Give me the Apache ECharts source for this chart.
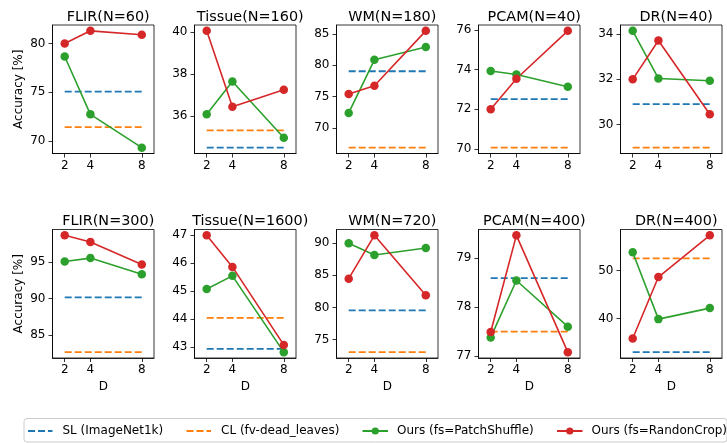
<!DOCTYPE html>
<html>
<head>
<meta charset="utf-8">
<script src="https://cdn.jsdelivr.net/npm/echarts@6/dist/echarts.min.js"></script>
<style>
  html, body { margin: 0; padding: 0; background: #fff; }
  #main { width: 727px; height: 443px; }
</style>
</head>
<body>
<div id="main"></div>
<script>
// panel titles and the x values (D)
var titles = ['FLIR(N=60)', 'Tissue(N=160)', 'WM(N=180)', 'PCAM(N=40)', 'DR(N=40)',
              'FLIR(N=300)', 'Tissue(N=1600)', 'WM(N=720)', 'PCAM(N=400)', 'DR(N=400)'];
var dVals = [2, 4, 8];

// baselines (flat dashed lines)
var slVals = [75.05, 34.51, 79.03, 72.51, 30.9, 90.18, 42.94, 79.53, 78.59, 32.94];
var clVals = [71.41, 35.33, 66.83, 70.07, 28.97, 82.66, 44.05, 73.01, 77.5, 52.59];

// ours, one row per panel, values at D = 2, 4, 8
var patchShuffle = [
  [78.66, 72.72, 69.3],
  [36.1, 37.65, 34.98],
  [72.37, 80.86, 82.9],
  [73.93, 73.75, 73.14],
  [34.15, 32.04, 31.94],
  [95.09, 95.55, 93.35],
  [45.08, 45.55, 42.82],
  [90.0, 88.17, 89.27],
  [77.38, 78.54, 77.6],
  [53.85, 39.86, 42.17]
];
var randonCrop = [
  [80.0, 81.3, 80.9],
  [40.06, 36.45, 37.26],
  [75.38, 76.72, 85.48],
  [72.0, 73.54, 75.95],
  [32.0, 33.72, 30.45],
  [98.67, 97.75, 94.68],
  [47.0, 45.87, 43.08],
  [84.48, 91.25, 81.88],
  [77.49, 79.46, 77.08],
  [35.8, 48.67, 57.41]
];

// y tick labels per panel
var yTicks = [
  [70, 75, 80], [36, 38, 40], [70, 75, 80, 85], [70, 72, 74, 76], [30, 32, 34],
  [85, 90, 95], [43, 44, 45, 46, 47], [75, 80, 85, 90], [77, 78, 79], [40, 50]
];

var names = ['SL (ImageNet1k)', 'CL (fv-dead_leaves)', 'Ours (fs=PatchShuffle)', 'Ours (fs=RandonCrop)'];
var colors = ['#1f77b4', '#ff7f0e', '#2ca02c', '#d62728'];
var font = 'DejaVu Sans';

var chart = echarts.init(document.getElementById('main'), null, { renderer: 'canvas' });

var lefts = [52.5, 194.5, 336.5, 478.5, 620.5];
var tops = [25, 229.5];
var pw = 101.5, ph = 128.5;

var grid = [], xAxis = [], yAxis = [], series = [], title = [];

for (var i = 0; i < 10; i++) {
  var row = Math.floor(i / 5), col = i % 5;
  grid.push({
    left: lefts[col], top: tops[row], width: pw, height: ph,
    show: true, borderColor: '#000', borderWidth: 0.8, backgroundColor: 'transparent'
  });
  title.push({
    text: titles[i],
    left: lefts[col] + pw / 2, top: tops[row] - 20,
    textAlign: 'center',
    textStyle: { fontFamily: font, fontSize: 14.4, fontWeight: 'normal', color: '#000' }
  });

  // matplotlib style limits: 5% margin round all plotted values
  var all = [slVals[i], clVals[i]].concat(patchShuffle[i], randonCrop[i]);
  var lo = Math.min.apply(null, all), hi = Math.max.apply(null, all);
  var pad = (hi - lo) * 0.05;

  xAxis.push({
    type: 'value', gridIndex: i, min: 1.05, max: 8.95,
    name: row === 1 ? 'D' : '', nameLocation: 'middle', nameGap: 23,
    nameTextStyle: { fontFamily: font, fontSize: 12, color: '#000' },
    axisLine: { show: true, lineStyle: { color: '#000', width: 0.8 } },
    axisTick: { show: true, length: 4, customValues: dVals, lineStyle: { color: '#000', width: 0.8 } },
    axisLabel: { customValues: dVals, margin: 6, fontFamily: font, fontSize: 12, color: '#000' },
    splitLine: { show: false }
  });
  yAxis.push({
    type: 'value', gridIndex: i, min: lo - pad, max: hi + pad,
    name: col === 0 ? 'Accuracy [%]' : '', nameLocation: 'middle', nameGap: 28,
    nameTextStyle: { fontFamily: font, fontSize: 12, color: '#000' },
    axisLine: { show: true, lineStyle: { color: '#000', width: 0.8 } },
    axisTick: { show: true, length: 4, customValues: yTicks[i], lineStyle: { color: '#000', width: 0.8 } },
    axisLabel: { customValues: yTicks[i], margin: 7, fontFamily: font, fontSize: 12, color: '#000' },
    splitLine: { show: false }
  });

  series.push({
    name: names[0], type: 'line', xAxisIndex: i, yAxisIndex: i, symbol: 'none', silent: true,
    lineStyle: { color: colors[0], width: 1.8, type: [7, 3] }, itemStyle: { color: colors[0] },
    data: [[dVals[0], slVals[i]], [dVals[2], slVals[i]]]
  });
  series.push({
    name: names[1], type: 'line', xAxisIndex: i, yAxisIndex: i, symbol: 'none', silent: true,
    lineStyle: { color: colors[1], width: 1.8, type: [7, 3] }, itemStyle: { color: colors[1] },
    data: [[dVals[0], clVals[i]], [dVals[2], clVals[i]]]
  });
  series.push({
    name: names[2], type: 'line', xAxisIndex: i, yAxisIndex: i, symbol: 'circle', symbolSize: 8.5,
    lineStyle: { color: colors[2], width: 1.6 }, itemStyle: { color: colors[2] },
    data: dVals.map(function (d, k) { return [d, patchShuffle[i][k]]; })
  });
  series.push({
    name: names[3], type: 'line', xAxisIndex: i, yAxisIndex: i, symbol: 'circle', symbolSize: 8.5,
    lineStyle: { color: colors[3], width: 1.6 }, itemStyle: { color: colors[3] },
    data: dVals.map(function (d, k) { return [d, randonCrop[i][k]]; })
  });
}

// one legend per entry so each sits where the reference puts it
var legendLeft = [27, 185.5, 361.5, 556];
var legend = names.map(function (n, k) {
  var leg = {
    data: [n], left: legendLeft[k], top: 425, orient: 'horizontal', padding: 0,
    itemWidth: k < 2 ? 24.5 : 25.5, itemHeight: 9,
    textStyle: { fontFamily: font, fontSize: 12, color: '#000', padding: [0, 0, 0, k < 2 ? 5 : 4] }
  };
  if (k < 2) leg.itemStyle = { opacity: 0 };  // dashed entries show no marker
  return leg;
});

var option = {
  animation: false,
  backgroundColor: '#fff',
  title: title,
  grid: grid,
  xAxis: xAxis,
  yAxis: yAxis,
  legend: legend,
  graphic: [{
    type: 'rect', z: -1, silent: true,
    shape: { x: 24, y: 418.5, width: 703, height: 23.5, r: 3 },
    style: { fill: '#fff', stroke: '#cccccc', lineWidth: 1 }
  }],
  series: series
};

chart.setOption(option);
</script>
</body>
</html>
